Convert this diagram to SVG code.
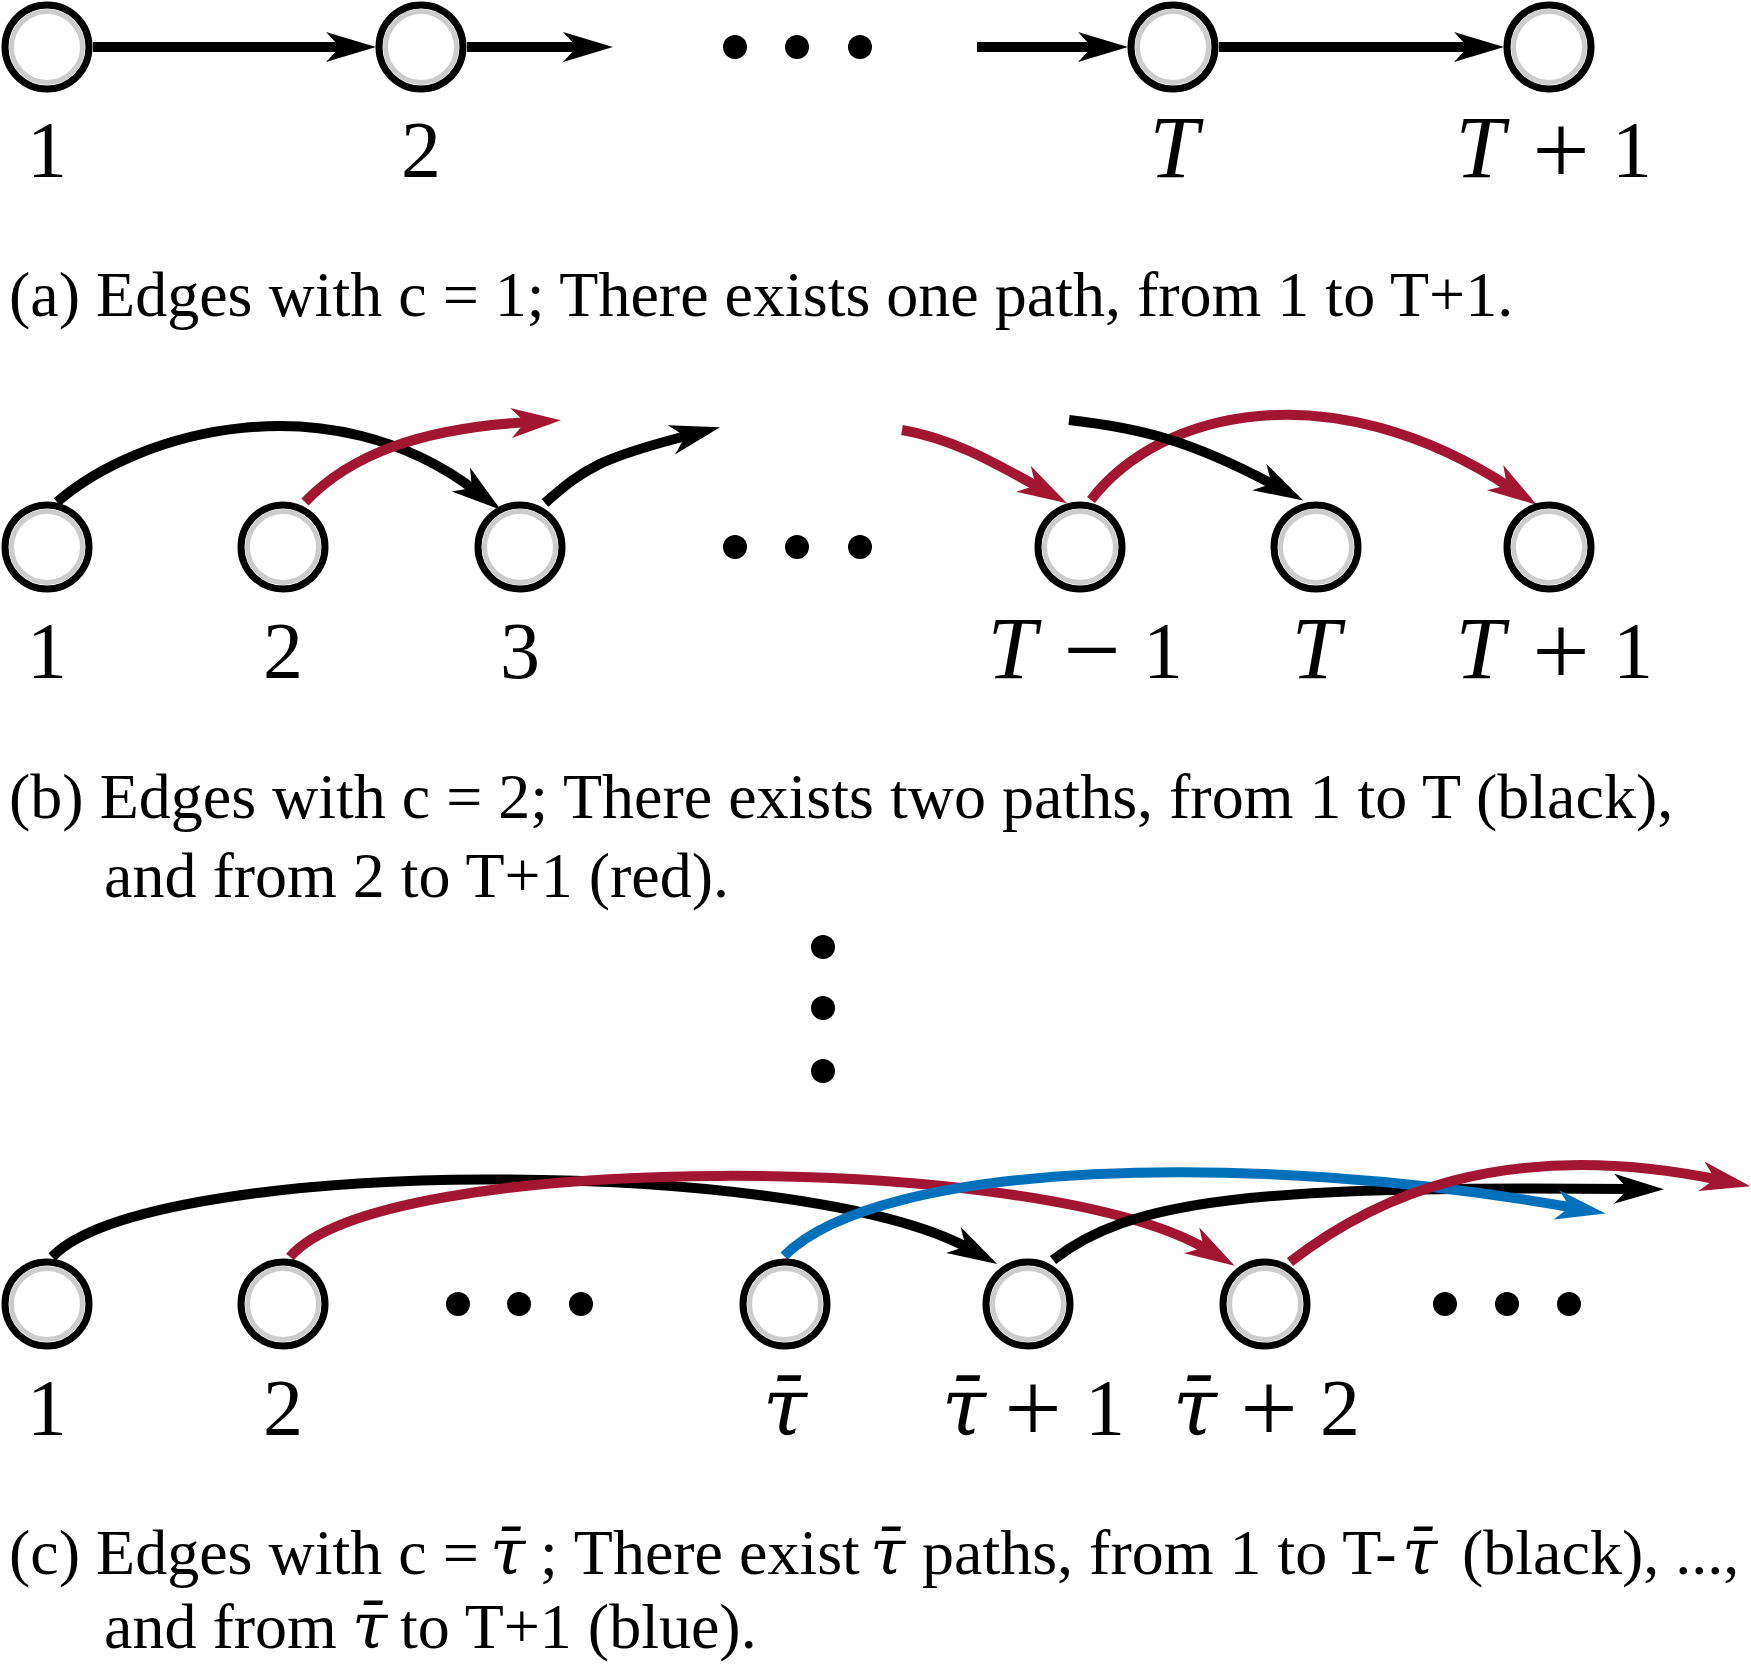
<svg xmlns="http://www.w3.org/2000/svg" width="1751" height="1668" viewBox="0 0 1751 1668">
<style>
.ring{fill:#fff;stroke:#000;stroke-width:7}
.inner{fill:none;stroke:#cccccc;stroke-width:5}
.lbl{font-family:"Liberation Serif",serif;font-size:80px;text-anchor:middle;fill:#000}
.it{font-style:italic}
.T{font-style:italic;font-size:88px}
.op{font-size:102px}
.tau{font-family:"DejaVu Serif",serif;font-style:italic}
.cap{font-family:"Liberation Serif",serif;font-size:64px;fill:#000}
.e{fill:none;stroke-width:10}
.k{stroke:#000}
.r{stroke:#A21633}
.b{stroke:#0070BB}
.dot{fill:#000}
</style>
<defs>
<marker id="ak" markerUnits="userSpaceOnUse" markerWidth="52" markerHeight="32" refX="20" refY="16" orient="auto" overflow="visible"><path d="M1,1 L51,16 L1,31 L15,16 z" fill="#000"/></marker>
<marker id="ar" markerUnits="userSpaceOnUse" markerWidth="52" markerHeight="32" refX="20" refY="16" orient="auto" overflow="visible"><path d="M1,1 L51,16 L1,31 L15,16 z" fill="#A21633"/></marker>
<marker id="ab" markerUnits="userSpaceOnUse" markerWidth="52" markerHeight="32" refX="20" refY="16" orient="auto" overflow="visible"><path d="M1,1 L51,16 L1,31 L15,16 z" fill="#0070BB"/></marker>
</defs>

<!-- (a) -->
<g id="connectors-a">
<path class="e k" d="M93,47 H345" marker-end="url(#ak)"/>
<path class="e k" d="M467,47 H582" marker-end="url(#ak)"/>
<path class="e k" d="M977,47 H1097" marker-end="url(#ak)"/>
<path class="e k" d="M1219,47 H1473" marker-end="url(#ak)"/>
</g>
<g id="a-n1"><circle class="ring" cx="47" cy="47" r="42"/><circle class="inner" cx="47" cy="47" r="35.5"/><text class="lbl" x="47" y="177">1</text></g>
<g id="a-n2"><circle class="ring" cx="421" cy="47" r="42"/><circle class="inner" cx="421" cy="47" r="35.5"/><text class="lbl" x="421" y="177">2</text></g>
<g id="a-nT"><circle class="ring" cx="1173" cy="47" r="42"/><circle class="inner" cx="1173" cy="47" r="35.5"/><text class="lbl T" x="1174" y="177">T</text></g>
<g id="a-nT1"><circle class="ring" cx="1549" cy="47" r="42"/><circle class="inner" cx="1549" cy="47" r="35.5"/><text class="lbl" y="177"><tspan class="T" x="1480">T</tspan><tspan class="op" x="1561" y="184">+</tspan><tspan x="1632" y="177">1</tspan></text></g>
<g id="a-dots"><circle class="dot" cx="735" cy="47" r="12"/><circle class="dot" cx="797" cy="47" r="12"/><circle class="dot" cx="860" cy="47" r="12"/></g>
<text class="cap" x="9" y="316">(a) Edges with c = 1; There exists one path, from 1 to T+1.</text>

<!-- (b) -->
<g id="connectors-b">
<path class="e k" d="M57,502 C140,430 330,380 476,491" marker-end="url(#ak)"/>
<path class="e r" d="M305,502 C350,455 420,428 530,422" marker-end="url(#ar)"/>
<path class="e k" d="M545,503 C585,468 600,458 690,435" marker-end="url(#ak)"/>
<path class="e r" d="M902,430 C950,438 990,460 1040,488" marker-end="url(#ar)"/>
<path class="e r" d="M1091,500 C1160,410 1330,370 1511,488" marker-end="url(#ar)"/>
<path class="e k" d="M1069,420 C1140,428 1190,440 1276,486" marker-end="url(#ak)"/>
</g>
<g id="b-n1"><circle class="ring" cx="47" cy="547" r="42"/><circle class="inner" cx="47" cy="547" r="35.5"/><text class="lbl" x="47" y="678">1</text></g>
<g id="b-n2"><circle class="ring" cx="283" cy="547" r="42"/><circle class="inner" cx="283" cy="547" r="35.5"/><text class="lbl" x="283" y="678">2</text></g>
<g id="b-n3"><circle class="ring" cx="520" cy="547" r="42"/><circle class="inner" cx="520" cy="547" r="35.5"/><text class="lbl" x="520" y="678">3</text></g>
<g id="b-nTm1"><circle class="ring" cx="1080" cy="547" r="42"/><circle class="inner" cx="1080" cy="547" r="35.5"/><text class="lbl" y="678"><tspan class="T" x="1012">T</tspan><tspan class="op" x="1092" y="684">−</tspan><tspan x="1163" y="678">1</tspan></text></g>
<g id="b-nT"><circle class="ring" cx="1316" cy="547" r="42"/><circle class="inner" cx="1316" cy="547" r="35.5"/><text class="lbl T" x="1316" y="678">T</text></g>
<g id="b-nT1"><circle class="ring" cx="1549" cy="547" r="42"/><circle class="inner" cx="1549" cy="547" r="35.5"/><text class="lbl" y="678"><tspan class="T" x="1480">T</tspan><tspan class="op" x="1561" y="685">+</tspan><tspan x="1633" y="678">1</tspan></text></g>
<g id="b-dots"><circle class="dot" cx="735" cy="547" r="12"/><circle class="dot" cx="797" cy="547" r="12"/><circle class="dot" cx="860" cy="547" r="12"/></g>
<text class="cap" x="9" y="818">(b) Edges with c = 2; There exists two paths, from 1 to T (black),</text>
<text class="cap" x="104" y="897">and from 2 to T+1 (red).</text>

<g id="v-dots"><circle class="dot" cx="823" cy="947" r="12"/><circle class="dot" cx="823" cy="1008" r="12"/><circle class="dot" cx="823" cy="1071" r="12"/></g>

<!-- (c) -->
<g id="connectors-c">
<path class="e k" d="M52,1257 C150,1155 800,1155 970,1249" marker-end="url(#ak)"/>
<path class="e r" d="M290,1257 C380,1150 1040,1150 1208,1250" marker-end="url(#ar)"/>
<path class="e k" d="M1053,1260 C1130,1200 1250,1185 1633,1189" marker-end="url(#ak)"/>
<path class="e b" d="M784,1256 C880,1160 1250,1150 1575,1208" marker-end="url(#ab)"/>
<path class="e r" d="M1290,1262 C1370,1200 1500,1135 1720,1180" marker-end="url(#ar)"/>
</g>
<g id="c-n1"><circle class="ring" cx="47" cy="1304" r="42"/><circle class="inner" cx="47" cy="1304" r="35.5"/><text class="lbl" x="47" y="1435">1</text></g>
<g id="c-n2"><circle class="ring" cx="283" cy="1304" r="42"/><circle class="inner" cx="283" cy="1304" r="35.5"/><text class="lbl" x="283" y="1435">2</text></g>
<g id="c-ntau"><circle class="ring" cx="785" cy="1304" r="42"/><circle class="inner" cx="785" cy="1304" r="35.5"/><text class="lbl" y="1435"><tspan class="tau" x="785">τ̄</tspan></text></g>
<g id="c-ntau1"><circle class="ring" cx="1028" cy="1304" r="42"/><circle class="inner" cx="1028" cy="1304" r="35.5"/><text class="lbl" y="1435"><tspan class="tau" x="964">τ̄</tspan><tspan class="op" x="1033" y="1442">+</tspan><tspan x="1105" y="1435">1</tspan></text></g>
<g id="c-ntau2"><circle class="ring" cx="1265" cy="1304" r="42"/><circle class="inner" cx="1265" cy="1304" r="35.5"/><text class="lbl" y="1435"><tspan class="tau" x="1195">τ̄</tspan><tspan class="op" x="1269" y="1442">+</tspan><tspan x="1340" y="1435">2</tspan></text></g>
<g id="c-dots1"><circle class="dot" cx="458" cy="1304" r="12"/><circle class="dot" cx="519" cy="1304" r="12"/><circle class="dot" cx="581" cy="1304" r="12"/></g>
<g id="c-dots2"><circle class="dot" cx="1445" cy="1304" r="12"/><circle class="dot" cx="1507" cy="1304" r="12"/><circle class="dot" cx="1569" cy="1304" r="12"/></g>
<text class="cap" y="1574"><tspan x="9">(c) Edges with c =</tspan><tspan class="tau" x="490">τ̄</tspan><tspan x="540">; There exist</tspan><tspan class="tau" x="870">τ̄</tspan><tspan x="922">paths, from 1 to T-</tspan><tspan class="tau" x="1402">τ̄</tspan><tspan x="1462">(black), ...,</tspan></text>
<text class="cap" y="1648"><tspan x="104">and from</tspan><tspan class="tau" x="352">τ̄</tspan><tspan x="400">to T+1 (blue).</tspan></text>
</svg>
